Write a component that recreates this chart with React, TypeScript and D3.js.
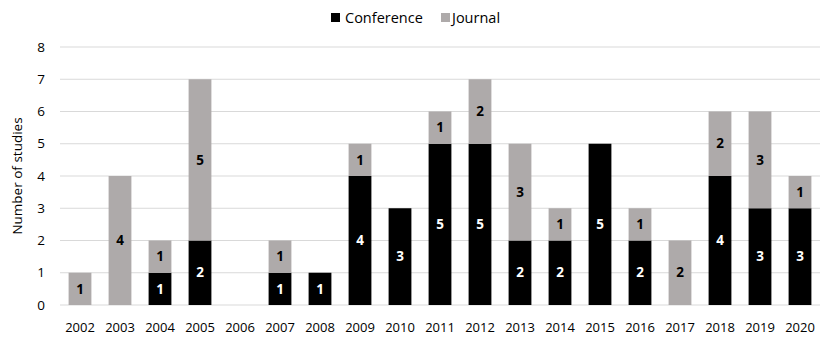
import React from 'react';
import * as d3 from 'd3';

const years = ['2002', '2003', '2004', '2005', '2006', '2007', '2008', '2009', '2010', '2011', '2012', '2013', '2014', '2015', '2016', '2017', '2018', '2019', '2020'];
const conference = [0, 0, 1, 2, 0, 1, 1, 4, 3, 5, 5, 2, 2, 5, 2, 0, 4, 3, 3];
const journal = [1, 4, 1, 5, 0, 1, 0, 1, 0, 1, 2, 3, 1, 0, 1, 2, 2, 3, 1];
const yTicks = [0, 1, 2, 3, 4, 5, 6, 7, 8];

const seriesNames = ['Conference', 'Journal'];
const colors = ['#000000', '#aeaaaa'];

const width = 830;
const height = 343;
const margin = { top: 47, right: 10, bottom: 38, left: 60 };
const font = "'Open Sans', 'DejaVu Sans', sans-serif";

const App = () => {
  const innerW = width - margin.left - margin.right;
  const innerH = height - margin.top - margin.bottom;

  const x = d3.scaleBand().domain(years).range([0, innerW]).paddingInner(0.43).paddingOuter(0.215);
  const y = d3.scaleLinear().domain([0, 8]).range([innerH, 0]);

  const table = years.map((yr, i) => ({ year: yr, Conference: conference[i], Journal: journal[i] }));
  const stacked = d3.stack<any>().keys(seriesNames)(table);

  return (
    <svg width={width} height={height} style={{ display: 'block', position: 'absolute', left: 0, top: 0, background: '#fff' }}>
      {/* legend */}
      <g fontFamily={font} fontSize={14.5} fill="#000">
        <rect x={331} y={13} width={9} height={9} fill={colors[0]} />
        <text x={345} y={23}>Conference</text>
        <rect x={441} y={13} width={9} height={9} fill={colors[1]} />
        <text x={452} y={23}>Journal</text>
      </g>
      <g transform={`translate(${margin.left},${margin.top})`}>
        {yTicks.map(t => (
          <g key={t}>
            <line x1={0} x2={innerW} y1={y(t)} y2={y(t)} stroke="#d9d9d9" strokeWidth={1} />
            <text x={-15} y={y(t)} dy="0.35em" textAnchor="end" fontFamily={font} fontSize={13.5} fill="#000">{t}</text>
          </g>
        ))}
        {stacked.map((s, si) => (
          <g key={s.key}>
            {s.map((d, i) => {
              const v = d[1] - d[0];
              if (v <= 0) return null;
              const bx = x(years[i])!;
              const top = y(d[1]);
              const h = y(d[0]) - y(d[1]);
              return (
                <g key={i}>
                  <rect x={bx} y={top} width={x.bandwidth()} height={h} fill={colors[si]} />
                  <text x={bx + x.bandwidth() / 2} y={top + h / 2} dy="0.35em" textAnchor="middle"
                    fontFamily={font} fontSize={13.5} fontWeight="bold" fill={si === 0 ? '#fff' : '#000'}>{v}</text>
                </g>
              );
            })}
          </g>
        ))}
        {years.map(yr => (
          <text key={yr} x={x(yr)! + x.bandwidth() / 2} y={innerH + 22} dy="0.35em" textAnchor="middle"
            fontFamily={font} fontSize={13} fill="#000">{yr}</text>
        ))}
        <text transform={`translate(${-38},${innerH / 2}) rotate(-90)`} textAnchor="middle"
          fontFamily={font} fontSize={13.5} fill="#000">Number of studies</text>
      </g>
    </svg>
  );
};

export default App;
